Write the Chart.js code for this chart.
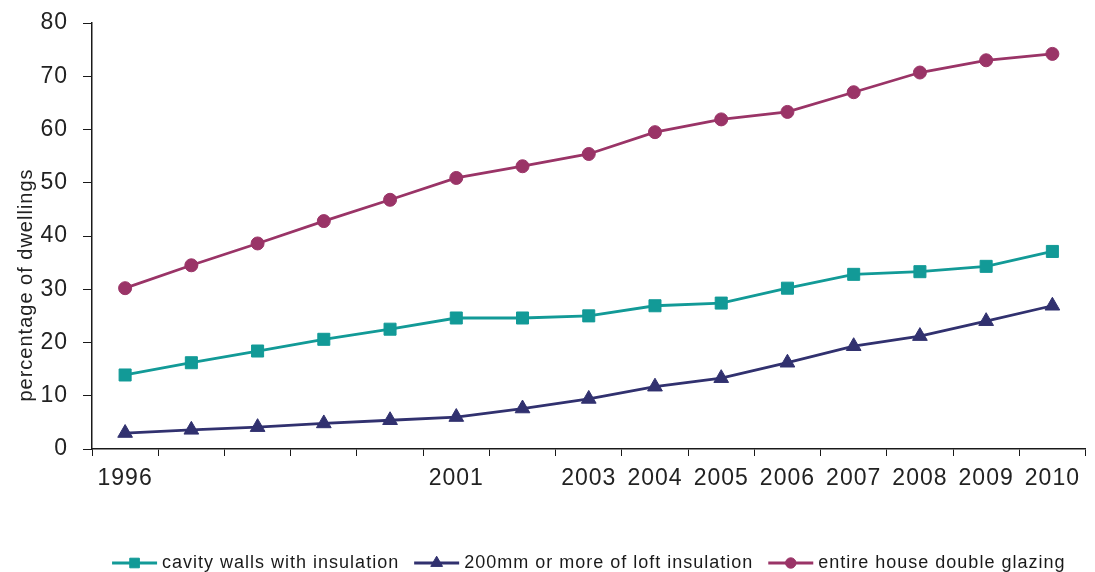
<!DOCTYPE html>
<html>
<head>
<meta charset="utf-8">
<script src="https://cdn.jsdelivr.net/npm/chart.js@4/dist/chart.umd.min.js"></script>
<style>
  html, body { margin: 0; padding: 0; background: #ffffff; }
  #wrap { width: 1095px; height: 572px; }
</style>
</head>
<body>
<div id="wrap"><canvas id="chart" width="1095" height="572"></canvas></div>
<script>
// Survey years (only some are labelled on the axis)
const yearLabels = ['1996', '', '', '', '', '2001', '', '2003', '2004', '2005', '2006', '2007', '2008', '2009', '2010'];

// Percentage of dwellings with each energy efficiency measure
const cavityWalls = [13.9, 16.2, 18.4, 20.6, 22.5, 24.6, 24.6, 25.0, 26.9, 27.4, 30.2, 32.8, 33.3, 34.3, 37.1];
const loftInsulation = [3.0, 3.6, 4.1, 4.8, 5.4, 6.0, 7.6, 9.4, 11.7, 13.3, 16.2, 19.3, 21.2, 24.0, 26.9];
const doubleGlazing = [30.2, 34.5, 38.6, 42.8, 46.8, 50.9, 53.1, 55.4, 59.5, 61.9, 63.3, 67.0, 70.7, 73.0, 74.2];

const seriesNames = ['cavity walls with insulation', '200mm or more of loft insulation', 'entire house double glazing'];
const yTicks = [0, 10, 20, 30, 40, 50, 60, 70, 80];
const yTitle = 'percentage of dwellings';

const TEAL = '#129a97';
const NAVY = '#31316f';
const MAROON = '#9a3467';
const FONT = "'Liberation Sans', Arial, sans-serif";
const INK = '#222222';

// Slightly tracked text throughout the chart
const spacingPlugin = {
  id: 'spacing',
  beforeLayout(chart) { chart.ctx.letterSpacing = '1px'; },
  beforeDraw(chart) { chart.ctx.letterSpacing = '1px'; }
};

// Rotated axis title, sitting a little below the middle of the axis
const axisTitlePlugin = {
  id: 'axisTitle',
  afterDraw(chart) {
    const ctx = chart.ctx;
    ctx.save();
    ctx.letterSpacing = '1px';
    ctx.translate(26, 285);
    ctx.rotate(-Math.PI / 2);
    ctx.font = '20px ' + FONT;
    ctx.fillStyle = INK;
    ctx.textAlign = 'center';
    ctx.textBaseline = 'middle';
    ctx.fillText(yTitle, 0, 0);
    ctx.restore();
  }
};

// Legend swatches drawn as a short line with the series marker on it
const legendLinePlugin = {
  id: 'legendLine',
  afterDraw(chart) {
    const legend = chart.legend;
    if (!legend || !legend.legendHitBoxes) return;
    const ctx = chart.ctx;
    legend.legendHitBoxes.forEach((hb, i) => {
      const ds = chart.data.datasets[i];
      const y = hb.top + hb.height / 2;
      const x0 = hb.left;
      const len = 45;
      ctx.save();
      ctx.strokeStyle = ds.borderColor;
      ctx.lineWidth = 2.8;
      ctx.beginPath();
      ctx.moveTo(x0, y);
      ctx.lineTo(x0 + len, y);
      ctx.stroke();
      ctx.fillStyle = ds.backgroundColor;
      ctx.strokeStyle = ds.borderColor;
      ctx.lineWidth = 1;
      Chart.helpers.drawPoint(ctx, {
        pointStyle: ds.pointStyle,
        radius: ds.pointRadius * 0.8,
        borderWidth: 1,
        rotation: 0
      }, x0 + len / 2, y);
      ctx.restore();
    });
  }
};

function makeSeries(label, data, color, style, radius) {
  return {
    label: label,
    data: data,
    borderColor: color,
    backgroundColor: color,
    borderWidth: 2.8,
    pointStyle: style,
    pointRadius: radius,
    pointHoverRadius: radius,
    pointBackgroundColor: color,
    pointBorderColor: color,
    pointBorderWidth: 1,
    tension: 0,
    fill: false
  };
}

const chart = new Chart(document.getElementById('chart'), {
  type: 'line',
  data: {
    labels: yearLabels,
    datasets: [
      makeSeries(seriesNames[0], cavityWalls, TEAL, 'rect', 8.5),
      makeSeries(seriesNames[1], loftInsulation, NAVY, 'triangle', 8.5),
      makeSeries(seriesNames[2], doubleGlazing, MAROON, 'circle', 6.5)
    ]
  },
  plugins: [spacingPlugin, axisTitlePlugin, legendLinePlugin],
  options: {
    responsive: false,
    animation: false,
    devicePixelRatio: 1,
    layout: { padding: { left: 0, right: 5, top: 23, bottom: -10 } },
    plugins: {
      tooltip: { enabled: false },
      legend: {
        display: true,
        position: 'bottom',
        fullSize: false,
        labels: {
          color: '#1a1a1a',
          font: { family: FONT, size: 18 },
          boxWidth: 41,
          boxHeight: 2,
          padding: 15,
          generateLabels(c) {
            const items = Chart.defaults.plugins.legend.labels.generateLabels(c);
            items.forEach(it => {
              it.fillStyle = 'rgba(0,0,0,0)';
              it.strokeStyle = 'rgba(0,0,0,0)';
              it.lineWidth = 0;
            });
            return items;
          }
        }
      }
    },
    scales: {
      x: {
        type: 'category',
        offset: true,
        grid: {
          display: true,
          offset: true,
          drawOnChartArea: false,
          drawTicks: true,
          tickLength: 7,
          tickColor: '#1a1a1a',
          tickWidth: 1
        },
        border: { display: true, color: '#1a1a1a', width: 1.5 },
        ticks: {
          autoSkip: false,
          maxRotation: 0,
          minRotation: 0,
          padding: 9,
          color: INK,
          font: { family: FONT, size: 23 }
        },
        afterFit(scale) {
          scale.height = 90;
          scale.paddingLeft = 0;
          scale.paddingRight = 0;
        }
      },
      y: {
        min: 0,
        max: 80,
        afterBuildTicks(scale) { scale.ticks = yTicks.map(v => ({ value: v })); },
        grid: {
          display: true,
          drawOnChartArea: false,
          drawTicks: true,
          tickLength: 9,
          tickColor: '#1a1a1a',
          tickWidth: 1
        },
        border: { display: true, color: '#1a1a1a', width: 1.5 },
        ticks: {
          padding: 15,
          color: INK,
          font: { family: FONT, size: 23 }
        },
        afterFit(scale) {
          scale.width = 92;
          scale.paddingTop = 0;
          scale.paddingBottom = 0;
        }
      }
    }
  }
});
</script>
</body>
</html>
